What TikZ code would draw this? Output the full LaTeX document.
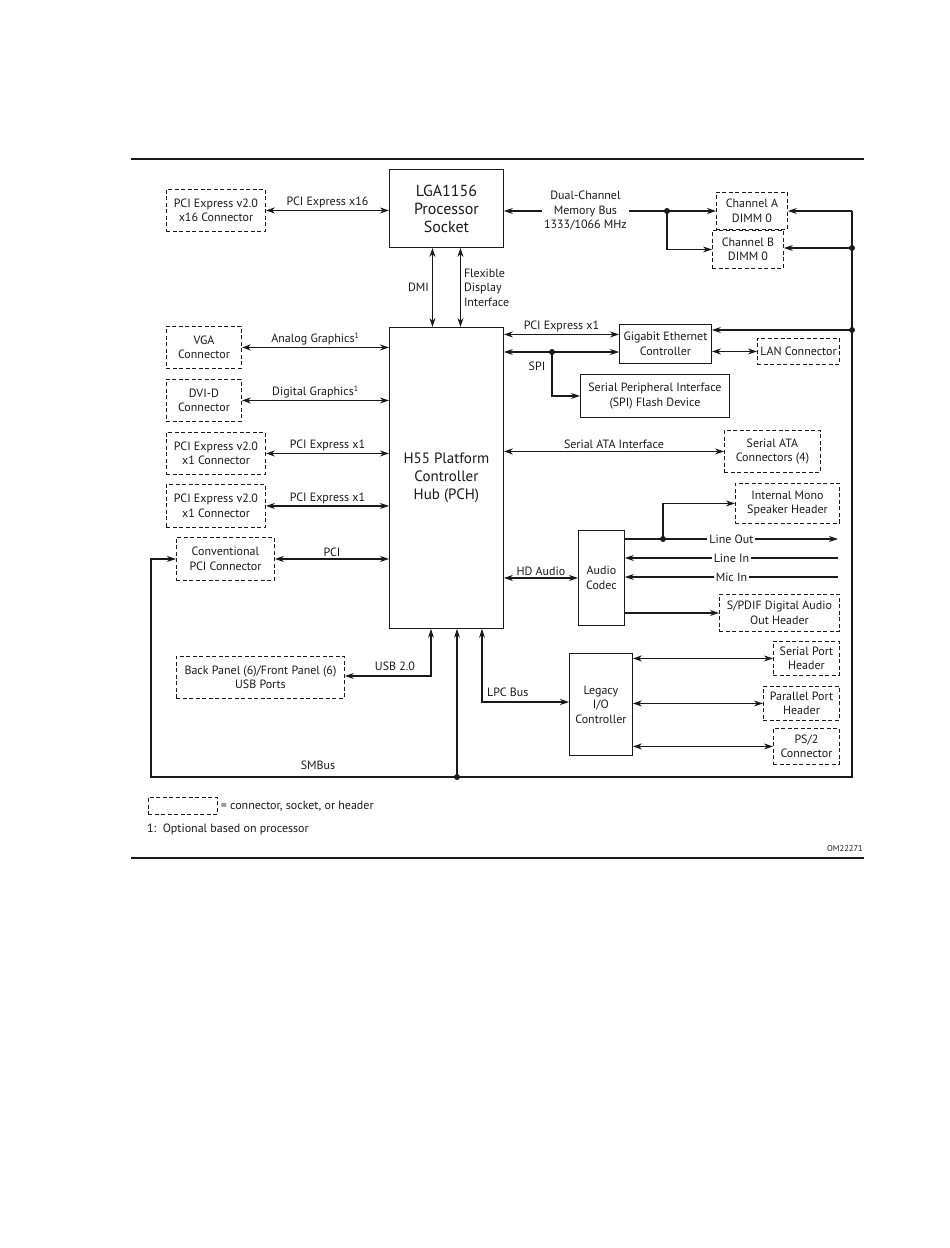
\documentclass[tikz,border=0pt]{standalone}
\usepackage{fontspec}
\setmainfont{PT Sans}
\usetikzlibrary{arrows.meta}
\newcommand\dfont{\fontsize{12}{14.5}\selectfont}
\newcommand\bigfont{\fontsize{16}{18}\selectfont}
\definecolor{ink}{HTML}{1A1A1A}
\begin{document}
\begin{tikzpicture}[x=1pt,y=-1pt,
  every node/.style={font=\dfont, text=ink, inner sep=1pt},
  box/.style={draw=ink, line width=0.9pt, anchor=north west, align=center, inner sep=0pt},
  conn/.style={box, dashed, dash pattern=on 4pt off 2.5pt},
  link/.style={draw=ink, line width=1.1pt},
  arr/.style={link, -{Stealth[length=9pt,width=6pt]}},
  dbl/.style={link, {Stealth[length=9pt,width=6pt]}-{Stealth[length=9pt,width=6pt]}},
  lab/.style={fill=white, inner sep=2pt},
  jdot/.style={circle, fill=ink, inner sep=0pt, minimum size=6pt}]
\useasboundingbox (0,0) rectangle (950,1248);

% rules
\draw[ink, line width=1.4pt] (131,159) -- (864,159);
\draw[ink, line width=1.4pt] (131,858) -- (864,858);

% main boxes
\node[box, minimum width=114pt, minimum height=78pt, font=\bigfont] (cpu) at (389,169) {LGA1156\\Processor\\Socket};
\node[box, minimum width=114pt, minimum height=301pt, font=\fontsize{15}{18}\selectfont] (pch) at (389,327) {H55 Platform\\Controller\\Hub (PCH)};
\node[box, minimum width=92pt, minimum height=39pt] (gbe) at (619,324) {Gigabit Ethernet\\Controller};
\node[box, minimum width=149pt, minimum height=43pt] (spi) at (580,374) {Serial Peripheral Interface\\(SPI) Flash Device};
\node[box, minimum width=46pt, minimum height=95pt] (codec) at (578,530) {Audio\\Codec};
\node[box, minimum width=63pt, minimum height=102pt] (legacy) at (569,653) {Legacy\\I/O\\Controller};

% connectors (dashed)
\node[conn, minimum width=99pt, minimum height=42pt] (pcie16) at (166,189) {PCI Express v2.0\\x16 Connector};
\node[conn, minimum width=71pt, minimum height=37pt] (chA) at (716,192) {Channel A\\DIMM 0};
\node[conn, minimum width=71pt, minimum height=38pt] (chB) at (712,230) {Channel B\\DIMM 0};
\node[conn, minimum width=82pt, minimum height=26pt] (lan) at (757,338) {LAN Connector};
\node[conn, minimum width=96pt, minimum height=42pt] (sata) at (724,430) {Serial ATA\\Connectors (4)};
\node[conn, minimum width=104pt, minimum height=40pt] (spk) at (735,483) {Internal Mono\\Speaker Header};
\node[conn, minimum width=120pt, minimum height=37pt] (spdif) at (719,594) {S/PDIF Digital Audio\\Out Header};
\node[conn, minimum width=66pt, minimum height=34pt] (serial) at (773,641) {Serial Port\\Header};
\node[conn, minimum width=76pt, minimum height=34pt] (parallel) at (763,686) {Parallel Port\\Header};
\node[conn, minimum width=66pt, minimum height=36pt] (ps2) at (773,728) {PS/2\\Connector};
\node[conn, minimum width=75pt, minimum height=42pt] (vga) at (166,326) {VGA\\Connector};
\node[conn, minimum width=75pt, minimum height=42pt] (dvi) at (166,379) {DVI-D\\Connector};
\node[conn, minimum width=99pt, minimum height=42pt] (px1a) at (166,432) {PCI Express v2.0\\x1 Connector};
\node[conn, minimum width=99pt, minimum height=43pt] (px1b) at (166,484) {PCI Express v2.0\\x1 Connector};
\node[conn, minimum width=98pt, minimum height=43pt] (cpci) at (176,537) {Conventional\\PCI Connector};
\node[conn, minimum width=168pt, minimum height=42pt] (usb) at (176,656) {Back Panel (6)/Front Panel (6)\\USB Ports};

% junction coordinates
\coordinate (mdot) at (667,211);
\coordinate (rtop) at (852,211);
\coordinate (rdB) at (852,248);
\coordinate (rdG) at (852,330);
\coordinate (rbot) at (852,777);
\coordinate (smdot) at (457,777);
\coordinate (sml) at (151,777);
\coordinate (spidot) at (552,352);
\coordinate (lodot) at (663,539);
\coordinate (loend) at (838,539);
\coordinate (liend) at (838,558);
\coordinate (miend) at (838,577);
\coordinate (lpcc) at (482,702);
\coordinate (usbc) at (431,676);
\coordinate (pcx) at ([yshift=9.5pt]gbe.west);

% processor links
\draw[dbl] (pcie16.east) -- (cpu.west |- pcie16.east) node[midway, above=1pt] {PCI Express x16};
\draw[dbl] ([xshift=-14pt]cpu.south) -- ([xshift=-14pt]pch.north) node[midway, left=2pt] {DMI};
\draw[dbl] ([xshift=14pt]cpu.south) -- ([xshift=14pt]pch.north) node[midway, right=2pt, align=left] {Flexible\\Display\\Interface};
\draw[arr] (mdot) -- (cpu.east |- mdot) node[midway, lab, align=center] {Dual-Channel\\Memory Bus\\1333/1066 MHz};
\draw[arr] (mdot) -- (chA.west |- mdot);
\draw[arr] (mdot) |- (chB.west);

% right-hand bus / SMBus
\draw[arr] (rtop) -- (rbot) -- (sml) |- (cpci.west);
\draw[arr] (rtop) -- (chA.east |- rtop);
\draw[arr] (rdB) -- (chB.east |- rdB);
\draw[arr] (rdG) -- (gbe.east |- rdG);
\draw[arr] (smdot) -- (pch.south -| smdot);
\node at (318,765) {SMBus};

% PCH right side
\draw[dbl] (pch.east |- pcx) -- (pcx) node[midway, above=1pt] {PCI Express x1};
\draw[dbl] (pch.east |- spidot) -- (gbe.west |- spidot);
\draw[arr] (spidot) |- (spi.west);
\node (lspi) at (537,366) {SPI};
\draw[dbl] (gbe.east |- lan.west) -- (lan.west);
\draw[dbl] (pch.east |- sata.west) -- (sata.west) node[midway, above=1pt] {Serial ATA Interface};
\draw[dbl] (pch.east |- codec.west) -- (codec.west) node[midway, above=1pt] {HD Audio};

% audio
\draw[arr] (codec.east |- lodot) -- (loend) node[midway, lab] {Line Out};
\draw[arr] (lodot) |- (spk.west);
\draw[arr] (liend) -- (codec.east |- liend) node[midway, lab] {Line In};
\draw[arr] (miend) -- (codec.east |- miend) node[midway, lab] {Mic In};
\draw[arr] (codec.east |- spdif.west) -- (spdif.west);

% legacy
\draw[dbl] (legacy.east |- serial.west) -- (serial.west);
\draw[dbl] (legacy.east |- parallel.west) -- (parallel.west);
\draw[dbl] (legacy.east |- ps2.west) -- (ps2.west);
\draw[dbl] (pch.south -| lpcc) |- (legacy.west |- lpcc);
\node[anchor=south west] at (486,698) {LPC Bus};

% USB
\draw[dbl] (pch.south -| usbc) |- (usb.east |- usbc);
\node at (395,666) {USB 2.0};

% PCH left side
\draw[dbl] (vga.east) -- (pch.west |- vga.east) node[midway, above=1pt] {Analog Graphics\textsuperscript{1}};
\draw[dbl] (dvi.east) -- (pch.west |- dvi.east) node[midway, above=1pt] {Digital Graphics\textsuperscript{1}};
\draw[dbl] (px1a.east) -- (pch.west |- px1a.east) node[midway, above=1pt] {PCI Express x1};
\draw[dbl] (px1b.east) -- (pch.west |- px1b.east) node[midway, above=1pt] {PCI Express x1};
\draw[dbl] (cpci.east) -- (pch.west |- cpci.east) node[midway, above=1pt] {PCI};

% junction dots
\foreach \p in {mdot,rdB,rdG,smdot,spidot,lodot} \node[jdot] at (\p) {};

% legend
\node[conn, minimum width=69pt, minimum height=17pt, line width=0.7pt] (leg) at (148,797) {};
\node[anchor=west] (legt) at ([xshift=2pt]leg.east) {= connector, socket, or header};
\node[anchor=west] (note) at (146,829) {1:\ \ Optional based on processor};
\node[anchor=east, font=\fontsize{8.5}{10}\selectfont] (om) at (864,849) {OM22271};
\end{tikzpicture}
\end{document}
